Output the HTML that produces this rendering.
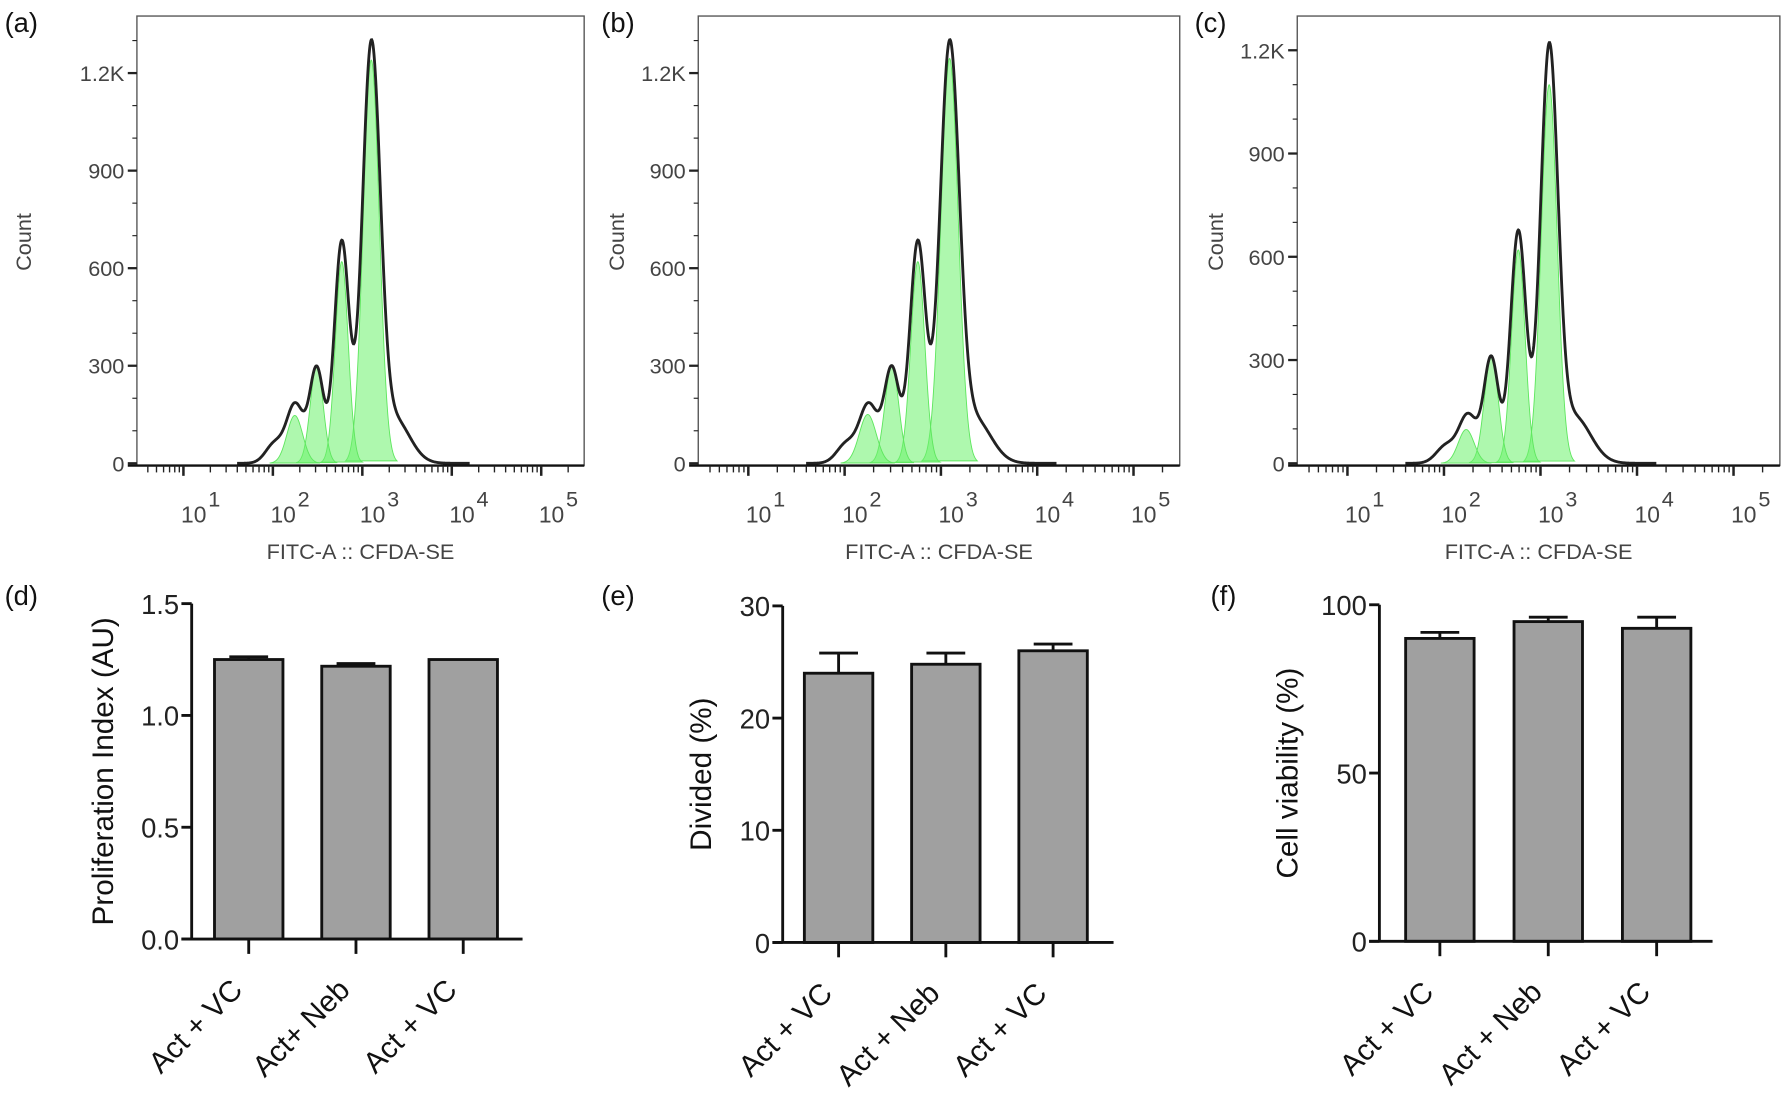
<!DOCTYPE html>
<html><head><meta charset="utf-8"><style>
html,body{margin:0;padding:0;background:#fff;}
svg{display:block;font-family:"Liberation Sans",Arial,sans-serif;}
</style></head><body>
<svg id="fig" width="1789" height="1100" viewBox="0 0 1568 964" xmlns="http://www.w3.org/2000/svg"></svg>
<script>
// ---- Histogram data: fitted generation peaks (log10 center, count, width) ----
const genCentersA=[3.10,2.77,2.49,2.245];
const genCountsA=[1240,620,300,147];
const genWidthsA=[0.09,0.072,0.072,0.088];
// envelope (measured histogram) components
const envCentersA=[3.10,2.77,2.49,2.25,3.36,2.02];
const envCountsA=[1260,680,290,180,135,60];
const envWidthsA=[0.1,0.082,0.078,0.095,0.17,0.1];

const genCentersB=[3.09,2.76,2.49,2.24];
const genCountsB=[1245,620,300,150];
const genWidthsB=[0.09,0.072,0.072,0.088];
const envCentersB=[3.09,2.76,2.49,2.25,3.35,2.02];
const envCountsB=[1260,680,290,180,135,60];
const envWidthsB=[0.1,0.082,0.078,0.095,0.17,0.1];

const genCentersC=[3.09,2.77,2.49,2.23];
const genCountsC=[1100,620,310,98];
const genWidthsC=[0.082,0.07,0.072,0.082];
const envCentersC=[3.09,2.77,2.49,2.25,3.35,2.02];
const envCountsC=[1180,675,305,140,135,50];
const envWidthsC=[0.09,0.08,0.076,0.095,0.17,0.1];

const countTicks=[0,300,600,900,1200];
const countTickLabels=["0","300","600","900","1.2K"];
const decades=[1,2,3,4,5];

// ---- Bar data ----
const barCategoriesD=["Act + VC","Act+ Neb","Act + VC"];
const barValuesD=[1.25,1.22,1.25];
const barErrorsD=[0.012,0.012,0];
const yTicksD=[0,0.5,1.0,1.5];
const yTickLabelsD=["0.0","0.5","1.0","1.5"];

const barCategoriesE=["Act + VC","Act + Neb","Act + VC"];
const barValuesE=[24.0,24.8,26.0];
const barErrorsE=[1.8,1.0,0.6];
const yTicksE=[0,10,20,30];
const yTickLabelsE=["0","10","20","30"];

const barCategoriesF=["Act + VC","Act + Neb","Act + VC"];
const barValuesF=[90,95,93];
const barErrorsF=[1.8,1.3,3.3];
const yTicksF=[0,50,100];
const yTickLabelsF=["0","50","100"];

const NS="http://www.w3.org/2000/svg";
const svg=document.getElementById('fig');
function mk(tag,attrs,parent){const e=document.createElementNS(NS,tag);for(const k in attrs)e.setAttribute(k,attrs[k]);(parent||svg).appendChild(e);return e;}
function gauss(x,c,a,w){return a*Math.exp(-0.5*((x-c)/w)**2);}

function panelLabel(txt,x,y,name){
  const t=mk('text',{x:x,y:y,'font-size':24,fill:'#111'});
  t.textContent=txt;
  
  
}

function hist(cfg){
  const g=mk('g',{});
  
  
  const W=cfg.x1-cfg.x0;
  const x10=cfg.x0+0.104*W, dec=0.2*W;
  const X=l=>x10+(l-1)*dec;
  const Y=c=>cfg.zeroY-(c/1200)*(cfg.zeroY-cfg.topY);
  for(let i=0;i<cfg.gc.length;i++){
    let d='';
    const c=cfg.gc[i],a=cfg.ga[i],w=cfg.gw[i];
    for(let l=c-3.2*w;l<=c+3.2*w+1e-9;l+=w/20){
      d+=(d?'L':'M')+X(l).toFixed(2)+','+Y(gauss(l,c,a,w)).toFixed(2);
    }
    d+='Z';
    const p=mk('path',{d:d,fill:'#6cf26c','fill-opacity':0.55,stroke:'#5ee65e','stroke-width':0.8},g);
    
    
  }
  let d='';
  for(let l=1.6;l<=4.2;l+=0.005){
    let v=0;
    for(let i=0;i<cfg.ec.length;i++)v+=gauss(l,cfg.ec[i],cfg.ea[i],cfg.ew[i]);
    d+=(d?'L':'M')+X(l).toFixed(2)+','+Y(v).toFixed(2);
  }
  const env=mk('path',{d:d,fill:'none',stroke:'#222','stroke-width':2.5},g);
  
  
  const box=mk('rect',{x:cfg.x0,y:14,width:W,height:cfg.zeroY+2-14,fill:'none',stroke:'#555','stroke-width':1.2},g);
  
  
  mk('line',{x1:cfg.x0-8,y1:cfg.zeroY+2,x2:cfg.x1,y2:cfg.zeroY+2,stroke:'#111','stroke-width':2},g);
  for(let c=0;c<=1300;c+=100){
    const y=Y(c); if(y<16)continue;
    const major=c%300===0;
    mk('line',{x1:cfg.x0-(major?8:4),y1:y,x2:cfg.x0,y2:y,stroke:'#222','stroke-width':major?2:1},g);
  }
  for(let i=0;i<countTicks.length;i++){
    const t=mk('text',{x:cfg.x0-11,y:Y(countTicks[i])+7,'text-anchor':'end','font-size':19,fill:'#444'},g);
    t.textContent=countTickLabels[i];
    
    
  }
  const ay=cfg.zeroY+2;
  for(let k=0;k<=5;k++){
    for(let m=1;m<=9;m++){
      const l=k+Math.log10(m); const x=X(l);
      if(x<cfg.x0+2||x>cfg.x1-2)continue;
      const major=m===1;
      mk('line',{x1:x,y1:ay,x2:x,y2:ay+(major?9:6),stroke:'#222','stroke-width':major?2.2:1.2},g);
    }
  }
  for(const k of decades){
    const t=mk('text',{x:X(k)+9,y:ay+50,'text-anchor':'middle','font-size':20,fill:'#444'},g);
    t.textContent='10';
    
    
    const s=mk('text',{x:X(k)+27,y:ay+36,'text-anchor':'middle','font-size':19,fill:'#444'},g);
    s.textContent=String(k);
  }
  const xt=mk('text',{x:(cfg.x0+cfg.x1)/2,y:490,'text-anchor':'middle','font-size':19,fill:'#444'},g);
  xt.textContent='FITC-A :: CFDA-SE';
  
  
  const yt=mk('text',{x:0,y:0,'text-anchor':'middle','font-size':19,fill:'#444',transform:`translate(${cfg.titleX},212) rotate(-90)`},g);
  yt.textContent='Count';
  
  
}

function bars(cfg){
  const g=mk('g',{});
  
  
  const Y=v=>cfg.zeroY-(v/cfg.max)*(cfg.zeroY-cfg.topY);
  for(let i=0;i<cfg.vals.length;i++){
    const cx=cfg.ax+cfg.first+i*cfg.step, bw=60;
    const top=Y(cfg.vals[i]);
    if(cfg.errs[i]>0){
      const ey=Y(cfg.vals[i]+cfg.errs[i]);
      mk('line',{x1:cx,y1:top,x2:cx,y2:ey,stroke:'#111','stroke-width':2.5},g);
      mk('line',{x1:cx-17,y1:ey,x2:cx+17,y2:ey,stroke:'#111','stroke-width':2.5},g);
    }
    const r=mk('rect',{x:cx-bw/2,y:top,width:bw,height:cfg.zeroY-top,fill:'#a0a0a0',stroke:'#111','stroke-width':2.5},g);
    
    
    mk('line',{x1:cx,y1:cfg.zeroY,x2:cx,y2:cfg.zeroY+13,stroke:'#111','stroke-width':2.5},g);
    const t=mk('text',{x:0,y:0,'text-anchor':'end','font-size':26,fill:'#111',transform:`translate(${cx-4},${cfg.zeroY+46}) rotate(-45)`},g);
    t.textContent=cfg.cats[i];
    
    
  }
  mk('line',{x1:cfg.ax,y1:cfg.topY,x2:cfg.ax,y2:cfg.zeroY,stroke:'#111','stroke-width':2.5},g);
  mk('line',{x1:cfg.ax-9,y1:cfg.zeroY,x2:cfg.ax+cfg.len,y2:cfg.zeroY,stroke:'#111','stroke-width':2.5},g);
  for(let i=0;i<cfg.ticks.length;i++){
    const y=Y(cfg.ticks[i]);
    mk('line',{x1:cfg.ax-9,y1:y,x2:cfg.ax,y2:y,stroke:'#111','stroke-width':2.5},g);
    const t=mk('text',{x:cfg.ax-11,y:y+9,'text-anchor':'end','font-size':24,fill:'#222'},g);
    t.textContent=cfg.labels[i];
    
    
  }
  const yt=mk('text',{x:0,y:0,'text-anchor':'middle','font-size':26,fill:'#111',transform:`translate(${cfg.titleX},${(cfg.topY+cfg.zeroY)/2}) rotate(-90)`},g);
  yt.textContent=cfg.title;
  
  
}

panelLabel('(a)',4,28,'panel-label-a');
panelLabel('(b)',527,28,'panel-label-b');
panelLabel('(c)',1047,28,'panel-label-c');
panelLabel('(d)',4,530,'panel-label-d');
panelLabel('(e)',527,530,'panel-label-e');
panelLabel('(f)',1061,530,'panel-label-f');

hist({name:'histogram-a',x0:120,x1:512,zeroY:406,topY:64,titleX:27,gc:genCentersA,ga:genCountsA,gw:genWidthsA,ec:envCentersA,ea:envCountsA,ew:envWidthsA});
hist({name:'histogram-b',x0:612,x1:1034,zeroY:406,topY:64,titleX:547,gc:genCentersB,ga:genCountsB,gw:genWidthsB,ec:envCentersB,ea:envCountsB,ew:envWidthsB});
hist({name:'histogram-c',x0:1137,x1:1560,zeroY:406,topY:44,titleX:1072,gc:genCentersC,ga:genCountsC,gw:genWidthsC,ec:envCentersC,ea:envCountsC,ew:envWidthsC});

bars({name:'bar-chart-d',ax:168,first:50,step:94,len:290,zeroY:823,topY:529,max:1.5,vals:barValuesD,errs:barErrorsD,cats:barCategoriesD,ticks:yTicksD,labels:yTickLabelsD,title:'Proliferation Index (AU)',titleX:99});
bars({name:'bar-chart-e',ax:686,first:49,step:94,len:290,zeroY:826,topY:531,max:30,vals:barValuesE,errs:barErrorsE,cats:barCategoriesE,ticks:yTicksE,labels:yTickLabelsE,title:'Divided (%)',titleX:623});
bars({name:'bar-chart-f',ax:1209,first:53,step:95,len:292,zeroY:825,topY:530,max:100,vals:barValuesF,errs:barErrorsF,cats:barCategoriesF,ticks:yTicksF,labels:yTickLabelsF,title:'Cell viability (%)',titleX:1137});
</script>
</body></html>
